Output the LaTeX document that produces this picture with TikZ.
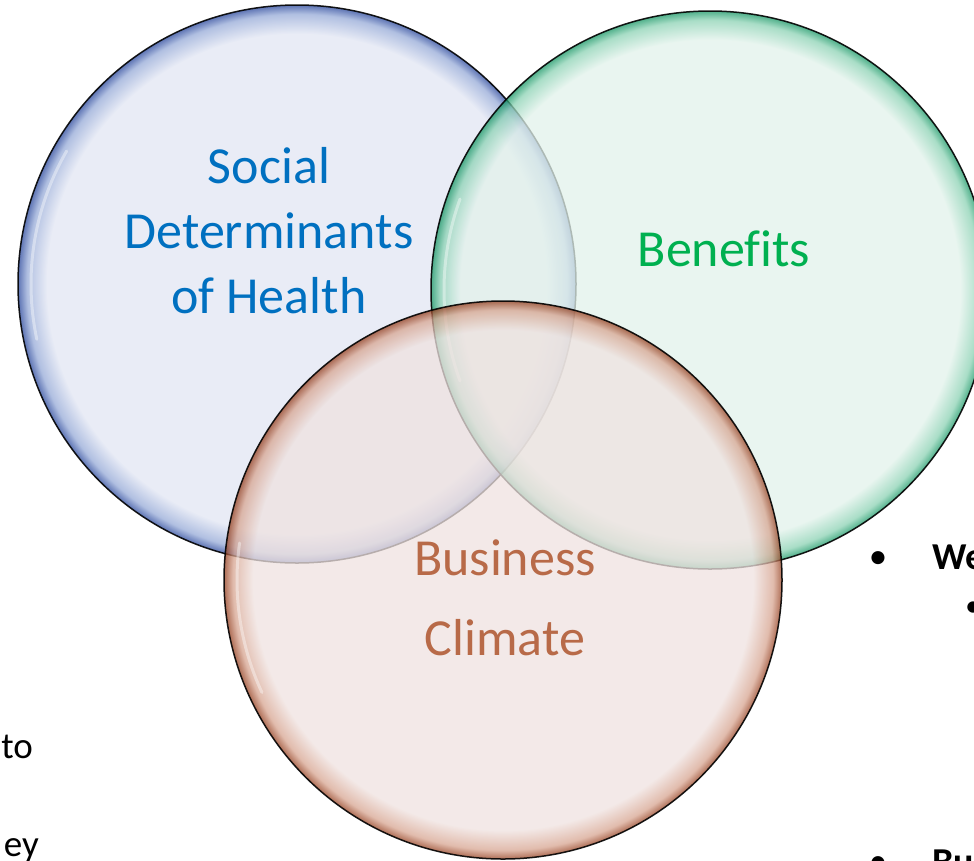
\documentclass[tikz,border=0pt]{standalone}
\usepackage{fontspec}
\setmainfont{Carlito}[Ligatures=NoCommon]
\usetikzlibrary{positioning}
\definecolor{socfill}{RGB}{226,230,243}
\definecolor{socmid}{RGB}{150,170,215}
\definecolor{socrim}{RGB}{40,70,155}
\definecolor{benfill}{RGB}{226,242,235}
\definecolor{benmid}{RGB}{140,210,180}
\definecolor{benrim}{RGB}{22,150,100}
\definecolor{busfill}{RGB}{239,226,224}
\definecolor{busmid}{RGB}{215,165,145}
\definecolor{busrim}{RGB}{148,62,30}
\definecolor{soctext}{RGB}{0,112,192}
\definecolor{bentext}{RGB}{0,176,80}
\definecolor{bustext}{RGB}{184,106,72}
\pgfdeclareradialshading{socshade}{\pgfpoint{0bp}{0bp}}{color(0bp)=(socfill); color(22.4bp)=(socfill); color(24.2bp)=(socmid); color(25bp)=(socrim); color(50bp)=(socrim)}
\pgfdeclareradialshading{benshade}{\pgfpoint{0bp}{0bp}}{color(0bp)=(benfill); color(22.4bp)=(benfill); color(24.2bp)=(benmid); color(25bp)=(benrim); color(50bp)=(benrim)}
\pgfdeclareradialshading{busshade}{\pgfpoint{0bp}{0bp}}{color(0bp)=(busfill); color(22.4bp)=(busfill); color(24.2bp)=(busmid); color(25bp)=(busrim); color(50bp)=(busrim)}
\tikzset{
  bubble/.style={shape=circle, minimum size=558pt, inner sep=0pt, outer sep=0pt, draw=black, line width=1.5pt, draw opacity=0.9, fill opacity=0.75, shade},
  title/.style={align=center, font=\fontsize{52}{65}\selectfont},
  side/.style={font=\fontsize{37}{44}\selectfont, text=black, inner sep=0pt},
  gleam/.style={white, line width=3pt, opacity=0.4, line cap=round}
}
\newcommand{\bubble}[1]{\node[bubble, shading=#1]}
\begin{document}
\begin{tikzpicture}[x=1pt, y=-1pt]
  \useasboundingbox (0,0) rectangle (974,860);
  \clip (0,0) rectangle (974,860);
  % the three circles
  \bubble{socshade} (soc) at (297,284) {};
  \draw[gleam] ([shift={(soc.center)}]-150:266) arc[start angle=-150, end angle=-192, radius=266];
  \bubble{benshade} (ben) at (710,290) {};
  \draw[gleam] ([shift={(ben.center)}]-160:266) arc[start angle=-160, end angle=-200, radius=266];
  \bubble{busshade} (bus) at (503,580) {};
  \draw[gleam] ([shift={(bus.center)}]-172:266) arc[start angle=-172, end angle=-205, radius=266];
  % labels
  \node[title, text=soctext] (soclabel) at (269,231) {Social\\Determinants\\of Health};
  \node[title, text=bentext] (benlabel) at (724,249) {Benefits};
  \node[title, text=bustext, font=\fontsize{52}{80}\selectfont] (buslabel) at (505,598) {Business\\Climate};
  % text cut off at the edges
  \node[side, anchor=base east] (lto) at (33,758) {to};
  \node[side, anchor=base east] (ley) at (39,856) {ey};
  \node[side, anchor=base] (bullone) at (878,568) {•};
  \node[side, anchor=base west, font=\fontsize{38}{44}\selectfont\bfseries] (we) at (932,569) {We};
  \node[side, anchor=base, font=\fontsize{32}{40}\selectfont] (bulltwo) at (973,616) {•};
  \node[side, anchor=base] (bullthree) at (878,873) {•};
  \node[side, anchor=base west, font=\fontsize{38}{44}\selectfont\bfseries] (bu) at (932,874) {Bu};
\end{tikzpicture}
\end{document}
